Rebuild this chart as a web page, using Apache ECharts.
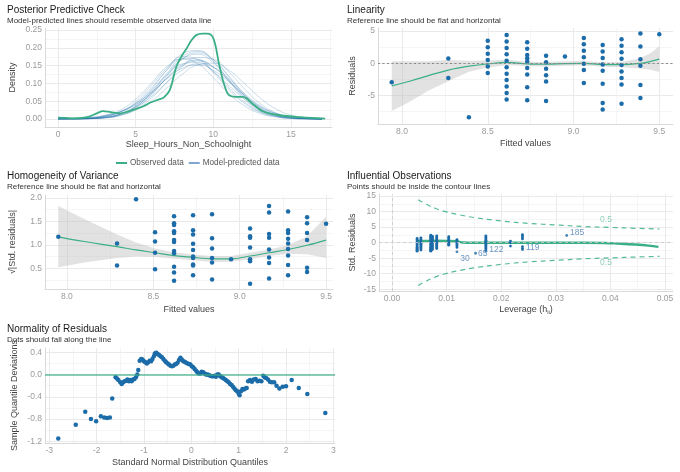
<!DOCTYPE html>
<html lang="en">
<head>
<meta charset="UTF-8">
<title>Model checks</title>
<style>
  html, body { margin: 0; padding: 0; background: #fff; }
  #chart { width: 680px; height: 472px; }
</style>
</head>
<body>
<div id="chart"></div>
<script src="https://cdn.jsdelivr.net/npm/echarts/dist/echarts.min.js"></script>
<script>
// ---- Posterior predictive check ----
const ppcX = [0, 1, 2, 3, 4, 5, 6, 7, 8, 9, 10, 11, 12, 13, 14, 15, 16, 17];
const ppcPred = [
  [0.000, 0.000, 0.001, 0.004, 0.013, 0.035, 0.075, 0.128, 0.175, 0.190, 0.166, 0.118, 0.066, 0.030, 0.011, 0.003, 0.001, 0.000],
  [0.001, 0.001, 0.002, 0.006, 0.015, 0.033, 0.063, 0.102, 0.138, 0.155, 0.146, 0.113, 0.072, 0.038, 0.016, 0.006, 0.002, 0.000],
  [0.001, 0.001, 0.002, 0.007, 0.019, 0.045, 0.087, 0.137, 0.170, 0.168, 0.134, 0.088, 0.048, 0.021, 0.008, 0.002, 0.001, 0.000],
  [0.000, 0.001, 0.002, 0.005, 0.014, 0.035, 0.070, 0.115, 0.153, 0.165, 0.146, 0.106, 0.063, 0.030, 0.012, 0.004, 0.001, 0.000],
  [0.000, 0.000, 0.001, 0.004, 0.013, 0.034, 0.073, 0.124, 0.168, 0.182, 0.158, 0.110, 0.061, 0.027, 0.010, 0.003, 0.001, 0.000],
  [0.001, 0.001, 0.003, 0.009, 0.021, 0.043, 0.075, 0.113, 0.143, 0.152, 0.137, 0.104, 0.067, 0.036, 0.016, 0.006, 0.002, 0.000],
  [0.000, 0.000, 0.001, 0.003, 0.010, 0.027, 0.058, 0.103, 0.148, 0.173, 0.168, 0.132, 0.085, 0.044, 0.018, 0.006, 0.002, 0.000],
  [0.001, 0.001, 0.003, 0.010, 0.025, 0.056, 0.100, 0.147, 0.168, 0.155, 0.116, 0.072, 0.037, 0.016, 0.006, 0.002, 0.000, 0.000],
  [0.000, 0.000, 0.001, 0.003, 0.011, 0.030, 0.067, 0.119, 0.169, 0.186, 0.167, 0.121, 0.070, 0.032, 0.012, 0.004, 0.001, 0.000],
  [0.001, 0.001, 0.003, 0.008, 0.020, 0.043, 0.080, 0.124, 0.155, 0.159, 0.133, 0.094, 0.056, 0.027, 0.011, 0.004, 0.001, 0.000],
  [0.001, 0.001, 0.002, 0.007, 0.020, 0.049, 0.094, 0.143, 0.175, 0.168, 0.130, 0.083, 0.044, 0.019, 0.007, 0.002, 0.001, 0.000],
  [0.000, 0.001, 0.002, 0.004, 0.011, 0.025, 0.050, 0.087, 0.126, 0.152, 0.157, 0.137, 0.100, 0.060, 0.029, 0.011, 0.004, 0.001],
  [0.000, 0.000, 0.001, 0.004, 0.014, 0.038, 0.082, 0.138, 0.183, 0.193, 0.162, 0.108, 0.056, 0.023, 0.008, 0.002, 0.000, 0.000],
  [0.002, 0.003, 0.005, 0.010, 0.020, 0.040, 0.072, 0.114, 0.150, 0.163, 0.146, 0.108, 0.067, 0.034, 0.015, 0.006, 0.002, 0.001]
];
const obsX = [0, 0.5, 1, 1.5, 2, 2.5, 2.9, 3.4, 4.0, 4.5, 5, 5.5, 6, 6.5, 6.8, 7.2, 7.6, 8.0, 8.3, 8.6, 8.9, 9.3, 9.6, 10.0, 10.4, 10.9, 11.3, 11.9, 12.6, 13.2, 14.1, 15.6, 17.2];
const obsY = [0.004, 0.003, 0.002, 0.003, 0.007, 0.016, 0.022, 0.019, 0.016, 0.021, 0.028, 0.036, 0.047, 0.055, 0.060, 0.082, 0.145, 0.180, 0.200, 0.222, 0.236, 0.240, 0.240, 0.227, 0.148, 0.073, 0.063, 0.062, 0.040, 0.021, 0.012, 0.005, 0.001];

// ---- Linearity ----
const linFitted = [7.94, 8.27, 8.39, 8.50, 8.61, 8.73, 8.84, 8.95, 9.06, 9.17, 9.28, 9.39, 9.50];
const linResid = [
  [-2.94],
  [0.73, -2.27],
  [-8.39],
  [3.5, 2.5, 1.5, 0.5, -0.5, -1.5],
  [4.39, 3.39, 2.39, 1.39, 0.39, -0.61, -1.61, -2.61, -3.61, -4.61, -5.61],
  [3.27, 2.27, 1.27, 0.77, 0.27, -0.73, -1.73, -3.73, -5.73],
  [1.16, 0.16, -0.84, -1.84, -2.84, -5.84],
  [1.05],
  [3.94, 2.94, 1.94, 0.94, -0.06, -1.06, -3.06],
  [2.83, 1.83, 0.83, -0.17, -1.17, -3.17, -6.17, -7.17],
  [3.72, 2.72, 1.72, 0.72, -0.28, -1.28, -2.28, -3.28, -6.28],
  [4.61, 2.61, 0.61, -0.39, -3.39, -5.39],
  [4.5]
];
const linSmX = [7.94, 8.05, 8.15, 8.27, 8.39, 8.50, 8.61, 8.73, 8.84, 8.95, 9.06, 9.17, 9.28, 9.39, 9.45, 9.50];
const linSmY = [-3.5, -2.75, -1.95, -1.05, -0.45, -0.1, 0.15, -0.1, -0.15, -0.05, 0.0, -0.2, -0.2, 0.0, 0.3, 0.65];
const linLo = [-7.4, -5.9, -4.3, -2.8, -1.3, -0.65, -0.25, -0.45, -0.5, -0.4, -0.35, -0.55, -0.6, -0.8, -1.0, -1.35];
const linHi = [0.3, 0.3, 0.3, 0.5, 0.4, 0.45, 0.55, 0.25, 0.2, 0.3, 0.35, 0.15, 0.2, 0.8, 1.6, 2.65];

// ---- Homogeneity of variance ----
const homFitted = [7.95, 8.29, 8.40, 8.51, 8.62, 8.73, 8.84, 8.95, 9.06, 9.17, 9.28, 9.39, 9.50];
const homVals = [
  [1.17],
  [1.03, 0.56],
  [1.97],
  [1.27, 1.07, 0.83, 0.48],
  [1.61, 1.46, 1.42, 1.29, 1.25, 1.10, 1.06, 0.87, 0.82, 0.53, 0.41, 0.23],
  [1.63, 1.31, 1.22, 1.02, 0.89, 0.75, 0.72, 0.58, 0.56, 0.35],
  [1.65, 1.14, 0.92, 0.72, 0.62, 0.26],
  [0.69],
  [1.35, 1.18, 1.15, 0.94, 0.69, 0.65, 0.17],
  [1.83, 1.69, 1.23, 1.15, 0.90, 0.73, 0.61, 0.28],
  [1.71, 1.31, 1.25, 1.13, 1.03, 0.91, 0.77, 0.57, 0.35],
  [1.59, 1.46, 1.25, 1.10, 0.51, 0.42],
  [1.45]
];
const homSmX = [7.95, 8.1, 8.29, 8.4, 8.51, 8.62, 8.73, 8.84, 8.95, 9.06, 9.17, 9.28, 9.39, 9.50];
const homSmY = [1.17, 1.07, 0.96, 0.89, 0.83, 0.77, 0.73, 0.70, 0.70, 0.76, 0.83, 0.90, 0.99, 1.10];
const homLo = [0.52, 0.62, 0.72, 0.75, 0.74, 0.70, 0.67, 0.63, 0.64, 0.69, 0.76, 0.81, 0.80, 0.72];
const homHi = [1.83, 1.55, 1.22, 1.05, 0.92, 0.84, 0.79, 0.76, 0.76, 0.83, 0.90, 0.99, 1.18, 1.60];

// ---- Influential observations ----
const infLev = [0.0046, 0.0053, 0.0071, 0.0074, 0.0082, 0.0104, 0.0119, 0.0172, 0.0217, 0.0239];
const infStd = [
  [1.35, 1.0, 0.65, 0.3, -0.05, -0.4, -0.75, -1.1, -1.45, -1.8, -2.15, -2.45, -2.75],
  [1.55, 1.2, 0.85, 0.5, 0.15, -0.2, -0.55, -0.9, -1.25, -1.6, -1.95, -2.4],
  [2.4, 2.05, 1.7, 1.35, 1.0, 0.65, 0.3, -0.05, -0.4, -0.75, -1.1, -1.45, -1.8, -2.15, -2.45, -2.75],
  [2.1, 1.75, 1.4, 1.05, 0.7, 0.35, 0.0, -0.35, -0.7, -1.05, -1.4, -1.75, -2.2],
  [2.2, 1.85, 1.5, 1.15, 0.8, 0.45, 0.1, -0.25, -0.6, -0.95, -1.3, -1.6, -1.9],
  [1.9, 1.55, 1.2, 0.85, 0.5, 0.15, -0.2, -0.5, -0.8],
  [1.0, 0.65, 0.3, -0.05, -0.4, -0.75, -1.1, -1.55],
  [2.2, 1.85, 1.5, 1.15, 0.8, 0.45, 0.1, -0.25, -0.6, -0.95, -1.3, -1.65, -2.0, -2.4],
  [0.5, -0.05, -1.1],
  [2.6, 2.2, 1.7, 1.2, -1.3, -1.9]
];
const infIds = ['30', '65', '122', '119', '185'];
const infIdLev = [0.0119, 0.0153, 0.0172, 0.0239, 0.0320];
const infIdStd = [-2.95, -3.4, -2.75, -2.25, 2.3];
const infSmX = [0.0046, 0.006, 0.008, 0.010, 0.0118, 0.0130, 0.015, 0.020, 0.025, 0.030, 0.035, 0.039, 0.0415, 0.0445, 0.047, 0.0488];
const infSmY = [0.5, 0.55, 0.6, 0.55, 0.45, 0.05, -0.05, -0.05, -0.05, -0.05, -0.05, -0.1, -0.3, -0.6, -0.95, -1.35];
const cookLev = [0.0048, 0.006, 0.008, 0.010, 0.0125, 0.015, 0.020, 0.025, 0.030, 0.035, 0.040, 0.045, 0.049];
const cookUp = [13.8, 12.6, 11.0, 9.9, 8.9, 8.1, 7.0, 6.2, 5.7, 5.2, 4.9, 4.6, 4.4];
const cookDown = [-13.8, -12.6, -11.0, -9.9, -8.9, -8.1, -7.0, -6.2, -5.7, -5.2, -4.9, -4.6, -4.4];

// ---- Normality of residuals ----
const qqX = [-2.81, -2.44, -2.24, -2.12, -2.01, -1.91, -1.84, -1.78, -1.72, -1.67,
  -1.60, -1.57, -1.54, -1.50, -1.47, -1.44, -1.41, -1.38, -1.35, -1.32, -1.29, -1.26, -1.23, -1.20, -1.17, -1.14, -1.12,
  -1.09, -1.06, -1.03, -1.00, -0.97, -0.94, -0.91, -0.88, -0.85, -0.82, -0.79, -0.77, -0.74, -0.71, -0.68, -0.65, -0.62, -0.59, -0.56, -0.53, -0.50,
  -0.47, -0.44, -0.41, -0.38, -0.35, -0.32, -0.29, -0.26, -0.23, -0.20, -0.17, -0.14, -0.11, -0.08, -0.05, -0.02,
  0.01, 0.04, 0.07, 0.10, 0.13, 0.16, 0.19, 0.22, 0.25, 0.28, 0.31, 0.34, 0.37, 0.40, 0.43, 0.46, 0.49, 0.52, 0.55, 0.58,
  0.61, 0.64, 0.67, 0.70, 0.73, 0.76, 0.79, 0.82, 0.85, 0.88, 0.91, 0.94, 0.97, 1.00, 1.02, 1.05, 1.08, 1.11, 1.14, 1.17,
  1.20, 1.24, 1.28, 1.32, 1.36, 1.40, 1.44, 1.48, 1.52, 1.55, 1.58, 1.62, 1.66, 1.70, 1.75, 1.80, 1.86, 1.93, 2.00, 2.12, 2.27, 2.45, 2.83];
const qqY = [-1.15, -0.90, -0.67, -0.80, -0.84, -0.75, -0.77, -0.78, -0.77, -0.43,
  -0.05, -0.07, -0.10, -0.14, -0.17, -0.14, -0.12, -0.11, -0.09, -0.12, -0.10, -0.12, -0.09, -0.08, -0.05, 0.00, 0.08,
  0.25, 0.28, 0.27, 0.24, 0.22, 0.20, 0.22, 0.25, 0.24, 0.28, 0.33, 0.38, 0.39, 0.37, 0.35, 0.33, 0.31, 0.28, 0.25, 0.22, 0.20,
  0.18, 0.16, 0.15, 0.16, 0.18, 0.19, 0.21, 0.26, 0.30, 0.27, 0.24, 0.23, 0.21, 0.20, 0.19, 0.18,
  0.15, 0.13, 0.10, 0.07, 0.04, 0.02, 0.02, 0.05, 0.04, 0.02, 0.00, 0.00, -0.01, -0.02, -0.03, -0.03, -0.02, -0.04, 0.00, 0.00,
  -0.03, -0.05, -0.06, -0.08, -0.10, -0.12, -0.14, -0.17, -0.19, -0.22, -0.25, -0.28, -0.30, -0.34, -0.37, -0.30, -0.26, -0.27, -0.25, -0.24,
  -0.12, -0.10, -0.13, -0.09, -0.08, -0.12, -0.11, -0.12, -0.02, -0.05, -0.06, -0.09, -0.13, -0.14, -0.14, -0.20, -0.25, -0.22, -0.21, -0.10, -0.24, -0.35, -0.69];

const GREEN = '#3aaf85';
const BLUE = '#1b6ca8';
const FONT = 'Liberation Sans, Arial, sans-serif';

const chart = echarts.init(document.getElementById('chart'));

// grid boxes and axis ranges for the five panels
const panels = [
  { title: 'Posterior Predictive Check', sub: 'Model-predicted lines should resemble observed data line', tl: 7, tt: 5,
    grid: { left: 45, top: 28, width: 287, height: 99 },
    x: { min: -0.84, max: 17.64, step: 5, dec: 0, name: 'Sleep_Hours_Non_Schoolnight', gap: 12 },
    y: { min: -0.0225, max: 0.256, step: 0.05, dec: 2, name: 'Density', gap: 27.5 } },
  { title: 'Linearity', sub: 'Reference line should be flat and horizontal', tl: 347, tt: 5,
    grid: { left: 378, top: 28, width: 295, height: 96 },
    x: { min: 7.86, max: 9.58, step: 0.5, dec: 1, name: 'Fitted values', gap: 15 },
    y: { min: -9.43, max: 5.48, step: 5, dec: 0, name: 'Residuals', gap: 20.5 } },
  { title: 'Homogeneity of Variance', sub: 'Reference line should be flat and horizontal', tl: 7, tt: 171,
    grid: { left: 45, top: 195, width: 288, height: 94 },
    x: { min: 7.873, max: 9.54, step: 0.5, dec: 1, name: 'Fitted values', gap: 16.5 },
    y: { min: 0.056, max: 2.063, step: 0.5, dec: 1, name: '√|Std. residuals|', gap: 27.5 } },
  { title: 'Influential Observations', sub: 'Points should be inside the contour lines', tl: 347, tt: 171,
    grid: { left: 379, top: 194, width: 294, height: 97 },
    x: { min: -0.00238, max: 0.05147, step: 0.01, dec: 2, name: 'Leverage (h{s|ii})', gap: 13.5 },
    y: { min: -15.55, max: 15.65, step: 5, dec: 0, name: 'Std. Residuals', gap: 21.5 } },
  { title: 'Normality of Residuals', sub: 'Dots should fall along the line', tl: 7, tt: 324,
    grid: { left: 45, top: 348, width: 290, height: 95 },
    x: { min: -3.09, max: 3.035, step: 1, dec: 0, name: 'Standard Normal Distribution Quantiles', gap: 15.5 },
    y: { min: -1.23, max: 0.477, step: 0.4, dec: 1, name: 'Sample Quantile Deviations', gap: 25.5 } }
];

const nameStyle = {
  color: '#444', fontSize: 9, fontFamily: FONT,
  rich: { s: { color: '#444', fontSize: 6, fontFamily: FONT, verticalAlign: 'bottom', padding: [5, 0, 0, 0] } }
};

function mainAxis(g, a) {
  return {
    type: 'value', gridIndex: g, min: a.min, max: a.max,
    minInterval: a.step, maxInterval: a.step, z: 1,
    name: a.name, nameLocation: 'middle', nameGap: a.gap, nameTextStyle: nameStyle,
    axisLine: { show: true, onZero: false, lineStyle: { color: '#d9d9d9', width: 1 } },
    axisTick: { show: false },
    axisLabel: {
      color: '#9b9b9b', fontSize: 8.5, fontFamily: FONT, margin: 3,
      showMinLabel: false, showMaxLabel: false,
      formatter: v => v.toFixed(a.dec)
    },
    splitLine: { show: true, showMinLine: false, showMaxLine: false, lineStyle: { color: '#e8e8e8', width: 0.8 } }
  };
}
function minorAxis(g, a) {
  return {
    type: 'value', gridIndex: g, min: a.min, max: a.max,
    minInterval: a.step / 2, maxInterval: a.step / 2, z: 0,
    axisLine: { show: false }, axisTick: { show: false }, axisLabel: { show: false },
    splitLine: { show: true, showMinLine: false, showMaxLine: false, lineStyle: { color: '#f3f3f3', width: 0.8 } }
  };
}

const xAxis = panels.map((p, g) => mainAxis(g, p.x)).concat(panels.map((p, g) => minorAxis(g, p.x)));
const yAxis = panels.map((p, g) => mainAxis(g, p.y)).concat(panels.map((p, g) => minorAxis(g, p.y)));

function zip(xs, ys) { return xs.map((x, i) => [x, ys[i]]); }
function columns(xs, cols) {
  const pts = [];
  xs.forEach((x, i) => cols[i].forEach(v => pts.push([x, v])));
  return pts;
}
function band(g, xs, lo, hi) {
  return {
    type: 'custom', xAxisIndex: g, yAxisIndex: g, silent: true, z: 1,
    data: xs.map((x, i) => [x, lo[i], hi[i]]),
    renderItem: (params, api) => {
      if (params.dataIndex !== 0) return null;
      const pts = [];
      xs.forEach((x, i) => pts.push(api.coord([x, hi[i]])));
      for (let i = xs.length - 1; i >= 0; i--) pts.push(api.coord([xs[i], lo[i]]));
      return { type: 'polygon', shape: { points: pts }, style: { fill: 'rgba(185,185,185,0.42)' } };
    }
  };
}
function smoothLine(g, xs, ys, width) {
  return {
    type: 'line', xAxisIndex: g, yAxisIndex: g, data: zip(xs, ys), smooth: 0.4,
    showSymbol: false, silent: true, z: 3,
    lineStyle: { color: GREEN, width: width }
  };
}
function dots(g, pts, size) {
  return {
    type: 'scatter', xAxisIndex: g, yAxisIndex: g, data: pts, symbolSize: size,
    silent: true, z: 4, itemStyle: { color: BLUE, opacity: 1 }
  };
}

const series = [];

// panel 1
ppcPred.forEach(curve => series.push({
  type: 'line', name: 'Model-predicted data', xAxisIndex: 0, yAxisIndex: 0,
  data: zip(ppcX, curve), smooth: true, showSymbol: false, silent: true,
  lineStyle: { color: 'rgba(27,108,168,0.26)', width: 0.9 }
}));
series.push({
  type: 'line', name: 'Observed data', xAxisIndex: 0, yAxisIndex: 0,
  data: zip(obsX, obsY), smooth: 0.4, showSymbol: false, silent: true, z: 3,
  lineStyle: { color: GREEN, width: 1.8 }
});

// panel 2
series.push(band(1, linSmX, linLo, linHi));
series.push(smoothLine(1, linSmX, linSmY, 1.2));
const linDots = dots(1, columns(linFitted, linResid), 4.5);
linDots.markLine = {
  silent: true, symbol: 'none', label: { show: false },
  lineStyle: { color: '#8a8a8a', type: [2, 2.5], width: 1.2 },
  data: [{ yAxis: 0 }]
};
series.push(linDots);

// panel 3
series.push(band(2, homSmX, homLo, homHi));
series.push(smoothLine(2, homSmX, homSmY, 1.2));
series.push(dots(2, columns(homFitted, homVals), 4.5));

// panel 4
const cookStyle = { color: 'rgba(58,175,133,0.85)', width: 1.2, type: [5, 4] };
series.push({ type: 'line', xAxisIndex: 3, yAxisIndex: 3, data: zip(cookLev, cookUp), smooth: true, showSymbol: false, silent: true, lineStyle: cookStyle });
series.push({ type: 'line', xAxisIndex: 3, yAxisIndex: 3, data: zip(cookLev, cookDown), smooth: true, showSymbol: false, silent: true, lineStyle: cookStyle });
const infDots = dots(3, columns(infLev, infStd), 2.8);
infDots.markLine = {
  silent: true, symbol: 'none', label: { show: false },
  lineStyle: { color: '#c9c9c9', type: [3, 3], width: 0.8 },
  data: [{ xAxis: 0 }, { yAxis: 0 }]
};
series.push(infDots);
const idOffsets = [[0, 7], [-1, 0], [0, -2], [0, -2], [0, -3]];
series.push({
  type: 'scatter', xAxisIndex: 3, yAxisIndex: 3, symbolSize: 2.8, silent: true, z: 4,
  itemStyle: { color: BLUE },
  data: infIds.map((id, i) => ({
    value: [infIdLev[i], infIdStd[i]],
    label: {
      show: true, formatter: id, position: 'right', distance: 2, offset: idOffsets[i],
      color: '#4a7db3', fontSize: 8.5, fontFamily: FONT
    }
  }))
});
series.push(smoothLine(3, infSmX, infSmY, 2.4));
series.push({
  type: 'scatter', xAxisIndex: 3, yAxisIndex: 3, symbolSize: 1, silent: true, z: 5,
  itemStyle: { color: 'transparent' },
  data: [[0.0392, 7.3], [0.0392, -6.5]],
  label: { show: true, position: 'inside', formatter: '0.5', color: '#74c6a6', fontSize: 8.5, fontFamily: FONT }
});

// panel 5
const qqDots = dots(4, zip(qqX, qqY), 4.5);
qqDots.markLine = {
  silent: true, symbol: 'none', label: { show: false },
  lineStyle: { color: 'rgba(58,175,133,0.6)', type: 'solid', width: 1.8 },
  data: [{ yAxis: 0 }]
};
series.push(qqDots);

chart.setOption({
  animation: false,
  textStyle: { fontFamily: FONT },
  title: panels.map(p => ({
    text: p.title, subtext: p.sub, left: p.tl, top: p.tt, padding: 0, itemGap: 2,
    textStyle: { fontSize: 10, fontWeight: 'normal', color: '#1a1a1a', fontFamily: FONT },
    subtextStyle: { fontSize: 8, color: '#333', fontFamily: FONT }
  })),
  legend: {
    left: 111, top: 154, itemWidth: 11, itemHeight: 2, itemGap: 5, icon: 'rect',
    selectedMode: false,
    textStyle: { fontSize: 8.2, color: '#555', fontFamily: FONT, padding: [0, 0, 0, -2] },
    data: [
      { name: 'Observed data', itemStyle: { color: GREEN } },
      { name: 'Model-predicted data', itemStyle: { color: '#7ea6d0' } }
    ]
  },
  grid: panels.map(p => Object.assign({ containLabel: false }, p.grid)),
  xAxis: xAxis,
  yAxis: yAxis,
  series: series
});
</script>
</body>
</html>
